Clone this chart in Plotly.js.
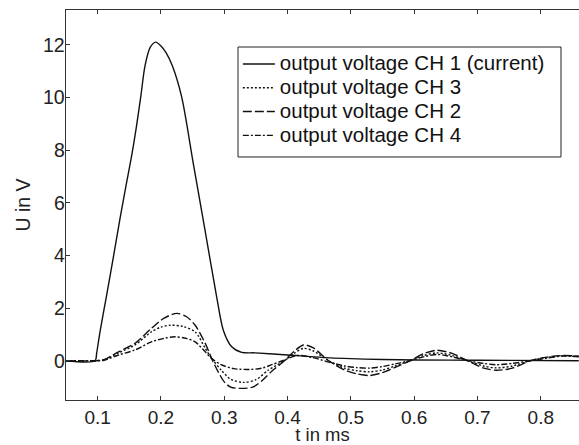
<!DOCTYPE html>
<html>
<head>
<meta charset="utf-8">
<script src="https://cdn.plot.ly/plotly-3.0.1.min.js"></script>
<style>html,body{margin:0;padding:0;overflow:hidden;background:#fff;}#chart{width:579px;height:445px;}</style>
</head>
<body>
<div id="chart"></div>
<script>
const seriesNames = ["output voltage CH 1 (current)", "output voltage CH 3", "output voltage CH 2", "output voltage CH 4"];

const ch1T = [0.05,0.0958,0.0985,0.1037,0.1143,0.1253,0.1353,0.1448,0.1538,0.161,0.168,0.1748,0.183,0.1917,0.2,0.208,0.218,0.2328,0.2511,0.2696,0.288,0.2985,0.3118,0.3275,0.349,0.4,0.467,0.55,0.6,0.7,0.86];
const ch1U = [0,0,0.3,1.1,2.5,4.0,5.4,6.65,7.8,8.85,10.01,11.2,11.9,12.1,11.95,11.7,11.2,10.01,7.49,4.96,2.43,1.16,0.53,0.32,0.3,0.22,0.11,0.05,0.03,0.02,0.0];

const ch3T = [0.05,0.095,0.11,0.133,0.159,0.185,0.2,0.215,0.235,0.254,0.27,0.28,0.295,0.31,0.33,0.35,0.37,0.395,0.41,0.425,0.44,0.465,0.49,0.51,0.53,0.55,0.57,0.593,0.615,0.636,0.66,0.685,0.71,0.73,0.755,0.783,0.81,0.835,0.86];
const ch3U = [0,0,0.04,0.3,0.6,1.1,1.28,1.35,1.3,1.1,0.47,0.09,-0.35,-0.7,-0.82,-0.72,-0.35,0.0,0.28,0.47,0.38,0.0,-0.28,-0.38,-0.42,-0.35,-0.2,0.0,0.2,0.3,0.2,0.0,-0.2,-0.27,-0.2,0.0,0.12,0.19,0.16];

const ch2T = [0.05,0.095,0.11,0.133,0.159,0.185,0.205,0.225,0.24,0.254,0.27,0.28,0.29,0.30,0.31,0.325,0.345,0.36,0.375,0.395,0.41,0.425,0.44,0.465,0.49,0.51,0.53,0.55,0.57,0.593,0.615,0.636,0.66,0.685,0.71,0.73,0.755,0.783,0.81,0.835,0.86];
const ch2U = [0,0,0.04,0.34,0.66,1.23,1.62,1.8,1.68,1.35,0.66,0.09,-0.4,-0.8,-1.0,-1.05,-1.0,-0.75,-0.4,0.0,0.35,0.6,0.5,0.0,-0.35,-0.5,-0.56,-0.45,-0.25,0.0,0.27,0.4,0.28,0.0,-0.28,-0.36,-0.28,0.0,0.14,0.2,0.17];

const ch4T = [0.05,0.095,0.11,0.133,0.159,0.185,0.205,0.222,0.24,0.254,0.27,0.28,0.295,0.315,0.34,0.36,0.375,0.392,0.415,0.44,0.465,0.49,0.51,0.53,0.55,0.57,0.593,0.615,0.636,0.66,0.685,0.71,0.73,0.755,0.783,0.81,0.835,0.86];
const ch4U = [0,0,0.02,0.22,0.41,0.72,0.85,0.91,0.85,0.72,0.34,0.09,-0.15,-0.3,-0.33,-0.28,-0.15,0.0,0.2,0.12,-0.05,-0.2,-0.26,-0.28,-0.22,-0.12,0.0,0.15,0.24,0.15,0.0,-0.1,-0.15,-0.1,0.0,0.1,0.18,0.15];

const xTicks = [0.1,0.2,0.3,0.4,0.5,0.6,0.7,0.8];
const yTicks = [0,2,4,6,8,10,12];

const FONT = "Liberation Sans, Arial, sans-serif";
function tr(x, y, name, dash) {
  return {x: x, y: y, name: '<span style="font-size:20.5px">' + name + '</span>',
    type: "scatter", mode: "lines",
    line: {color: "#111", width: 1.4, dash: dash, shape: "spline", smoothing: 0.8}};
}
const data = [
  tr(ch1T, ch1U, seriesNames[0], "solid"),
  tr(ch3T, ch3U, seriesNames[1], "2px,2px"),
  tr(ch2T, ch2U, seriesNames[2], "9px,3px"),
  tr(ch4T, ch4U, seriesNames[3], "6px,2px,2px,2px")
];
const yLabelAnns = yTicks.map(v => ({
  x: 0, xref: "paper", y: v, yref: "y", text: String(v), showarrow: false,
  xanchor: "right", yanchor: "middle", xshift: 1,
  font: {family: FONT, size: 19.5, color: "#222"}
}));
const layout = {
  width: 579, height: 445,
  margin: {l: 66, r: 0, t: 10, b: 45},
  paper_bgcolor: "#fff", plot_bgcolor: "#fff",
  font: {family: FONT, size: 19, color: "#222"},
  showlegend: true,
  legend: {x: 0.335, y: 0.905, xanchor: "left", yanchor: "top",
    bgcolor: "rgba(0,0,0,0)", borderwidth: 0, itemwidth: 32,
    font: {family: FONT, size: 16, color: "#111"}, tracegroupgap: 0},
  shapes: [{type: "rect", xref: "paper", yref: "paper",
    x0: 0.3353, x1: 0.9649, y0: 0.6231, y1: 0.9051,
    line: {color: "#222", width: 1}, fillcolor: "rgba(0,0,0,0)", layer: "above"}],
  annotations: yLabelAnns,
  xaxis: {range: [0.05, 0.8604], tickvals: xTicks, ticktext: xTicks.map(v => v.toFixed(1)),
    showline: true, linecolor: "#333", linewidth: 1, mirror: "ticks",
    ticks: "inside", ticklen: 4, tickcolor: "#333", showgrid: false, zeroline: false,
    tickfont: {family: FONT, size: 19, color: "#222"},
    title: {text: "t in ms", standoff: 10, font: {family: FONT, size: 18.5, color: "#222"}}},
  yaxis: {range: [-1.49, 13.32], tickvals: yTicks, showticklabels: false,
    showline: true, linecolor: "#333", linewidth: 1, mirror: false,
    ticks: "inside", ticklen: 4, tickcolor: "#333", showgrid: false, zeroline: false,
    title: {text: "U in V", standoff: 29, font: {family: FONT, size: 19.5, color: "#222"}}}
};
Plotly.newPlot("chart", data, layout, {staticPlot: true, displayModeBar: false});
</script>
</body>
</html>
